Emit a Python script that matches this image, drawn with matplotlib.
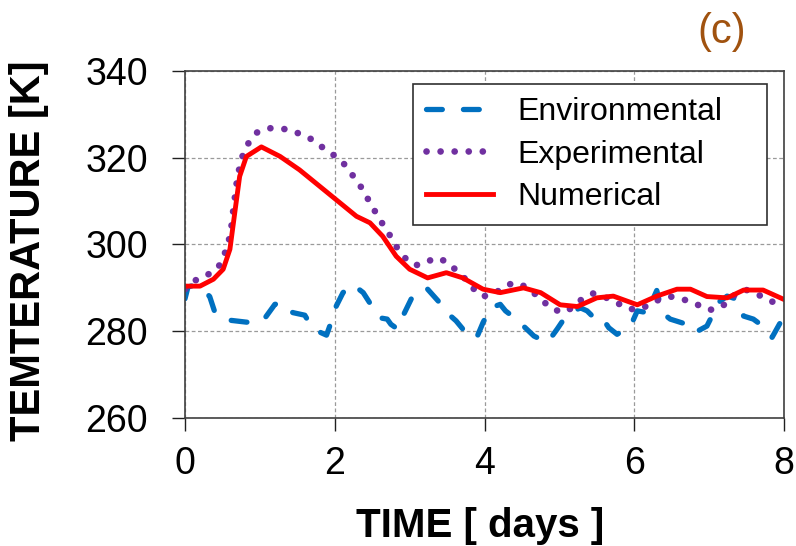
import matplotlib
matplotlib.use("Agg")
import matplotlib.pyplot as plt

# ── data ────────────────────────────────────────────────────
env_t = [0, 0.04, 0.12, 0.22, 0.33, 0.4, 0.5, 0.62, 0.82, 0.98, 1.07, 1.2, 1.29,
         1.44, 1.6, 1.71, 1.89, 1.98, 2.02, 2.11, 2.24, 2.38, 2.51, 2.6, 2.7,
         2.75, 2.84, 2.91, 3.02, 3.13, 3.24, 3.38, 3.47, 3.62, 3.73, 3.89, 3.98,
         4.08, 4.21, 4.28, 4.37, 4.52, 4.66, 4.84, 4.97, 5.06, 5.15, 5.28, 5.37,
         5.48, 5.57, 5.66, 5.77, 5.95, 6.04, 6.17, 6.3, 6.37, 6.48, 6.7, 6.81,
         6.97, 7.06, 7.12, 7.24, 7.37, 7.46, 7.59, 7.77, 7.84, 7.95, 8.0]
env_T = [287.5, 290.2, 290.6, 290.0, 288.0, 284.3, 282.8, 282.5, 282.1, 282.0,
         283.1, 286.2, 286.6, 284.3, 283.7, 280.5, 279.1, 283.5, 285.8, 288.9,
         290.8, 288.9, 285.4, 283.1, 282.8, 281.6, 280.5, 283.5, 287.4, 289.7,
         289.7, 287.0, 284.7, 282.4, 280.1, 278.3, 282.0, 285.4, 286.2, 284.7,
         283.5, 281.2, 278.9, 277.4, 280.5, 282.8, 284.3, 285.4, 284.7, 282.8,
         283.1, 280.8, 279.3, 281.2, 284.7, 284.3, 289.4, 284.3, 282.8, 281.6,
         279.7, 281.2, 284.3, 286.6, 288.1, 287.4, 283.5, 282.8, 280.5, 278.6,
         282.0, 283.0]

exp_t = [0, 0.16, 0.31, 0.44, 0.51, 0.58, 0.62, 0.64, 0.69, 0.73, 0.78, 0.87,
         0.96, 1.11, 1.27, 1.42, 1.56, 1.71, 1.85, 1.97, 2.09, 2.2, 2.29, 2.39,
         2.48, 2.58, 2.67, 2.76, 2.84, 2.95, 3.07, 3.2, 3.33, 3.48, 3.6, 3.71,
         3.84, 3.98, 4.15, 4.28, 4.39, 4.55, 4.68, 4.79, 4.9, 5.05, 5.17, 5.3,
         5.45, 5.59, 5.75, 5.88, 6.04, 6.19, 6.32, 6.48, 6.61, 6.75, 6.86, 7.0,
         7.15, 7.26, 7.37, 7.5, 7.64, 7.78, 7.92, 8.0]
exp_T = [289.7, 292.0, 293.1, 294.6, 296.9, 300.4, 304.2, 307.3, 314.2, 318.0,
         321.1, 324.1, 325.8, 326.8, 326.8, 326.3, 325.3, 324.1, 322.2, 320.8,
         319.3, 316.9, 314.7, 312.3, 309.2, 306.5, 303.8, 301.5, 299.0, 296.7,
         295.2, 295.6, 296.9, 296.2, 294.4, 292.7, 290.0, 288.0, 288.9, 290.4,
         291.2, 290.3, 288.5, 286.8, 285.2, 284.3, 285.4, 287.4, 288.7, 288.0,
         286.8, 285.4, 284.9, 286.0, 287.2, 288.0, 287.6, 286.8, 286.0, 284.9,
         285.4, 287.0, 288.9, 289.5, 288.5, 287.5, 286.0, 285.8]

num_t = [0, 0.2, 0.38, 0.51, 0.6, 0.67, 0.73, 0.82, 1.02, 1.27, 1.53, 1.8, 2.07,
         2.29, 2.47, 2.64, 2.82, 3.0, 3.24, 3.49, 3.71, 3.98, 4.21, 4.52, 4.75,
         5.01, 5.24, 5.5, 5.72, 6.04, 6.3, 6.57, 6.75, 6.97, 7.24, 7.46, 7.72,
         7.99]
num_T = [290.4, 290.4, 292.0, 294.3, 298.9, 308.0, 315.7, 320.3, 322.5, 320.3,
         317.2, 313.4, 309.6, 306.5, 305.0, 301.9, 297.3, 294.3, 292.3, 293.5,
         292.3, 289.7, 288.9, 290.0, 288.9, 286.1, 285.7, 287.7, 288.1, 286.1,
         288.1, 289.7, 289.7, 288.0, 287.7, 289.5, 289.5, 287.4]

x_ticks = [0, 2, 4, 6, 8]
y_ticks = [260, 280, 300, 320, 340]

plt.rcParams['font.family'] = ['Liberation Sans', 'DejaVu Sans']

fig = plt.figure(figsize=(7.96, 5.46), dpi=100)
ax = fig.add_axes([0.2324, 0.2344, 0.7526, 0.6356])

ax.plot(env_t, env_T, color='#0070C0', lw=3.8, linestyle=(0, (3.0, 4.0)),
        dash_capstyle='round', solid_joinstyle='round', label='Environmental')
ax.plot(exp_t, exp_T, color='#7030A0', lw=4.8, linestyle=(0, (0.01, 2.1)),
        dash_capstyle='round', label='Experimental')
ax.plot(num_t, num_T, color='#FF0000', lw=3.5, solid_joinstyle='round',
        label='Numerical')

ax.set_xlim(0, 8)
ax.set_ylim(260, 340)
ax.set_xticks(x_ticks)
ax.set_yticks(y_ticks)
ax.grid(True, color='#9a9a9a', lw=0.9, linestyle=(0, (3, 2)))
ax.set_axisbelow(True)
for s in ax.spines.values():
    s.set_color('#404040')
    s.set_linewidth(1.2)
ax.tick_params(axis='both', direction='out', length=9.5, width=1.0,
               color='#202020', labelsize=27)
ax.tick_params(axis='x', pad=11)
ax.tick_params(axis='y', pad=17)

leg = ax.legend(loc='upper right', bbox_to_anchor=(0.3806, 0.5533, 0.591, 0.4092),
                mode='expand', borderaxespad=0, fontsize=23, handlelength=2.1,
                handletextpad=0.75, borderpad=0.42, labelspacing=0.38,
                fancybox=False, framealpha=1)
leg.get_frame().set_edgecolor('#303030')
leg.get_frame().set_linewidth(1.2)

fig.text(0.603, 0.0165, 'TIME [ days ]', fontsize=29, fontweight='bold',
         ha='center', va='baseline')
fig.text(0.037, 0.540, 'TEMTERATURE [K]', fontsize=30, fontweight='bold',
         rotation=90, ha='center', va='center')
fig.text(0.907, 0.941, '(c)', fontsize=30, color='#A0520F',
         ha='center', va='center')

fig.savefig('out.png', dpi=100)
